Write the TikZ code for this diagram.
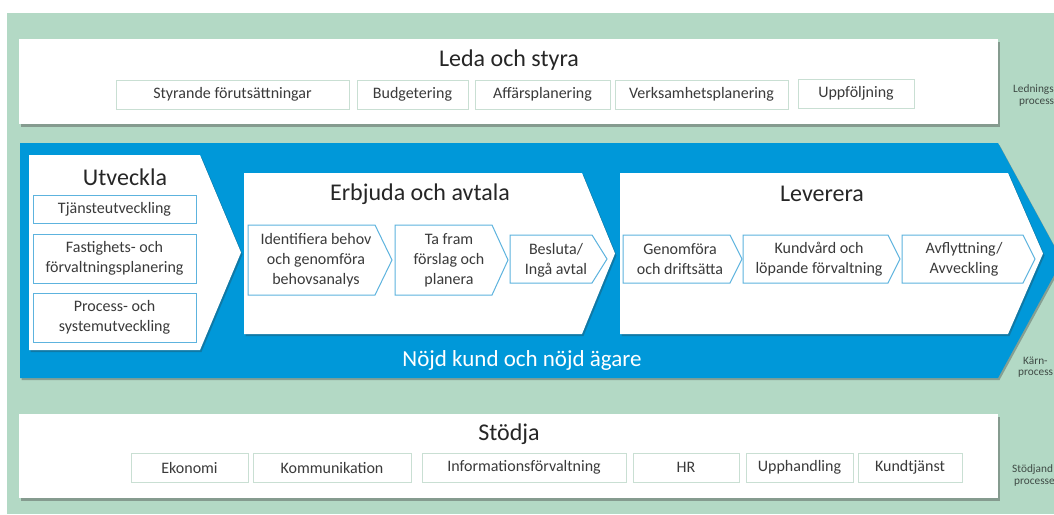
\documentclass[tikz,border=0pt]{standalone}
\usepackage{fontspec}
\setmainfont{Carlito}
\usetikzlibrary{shadows}
\definecolor{bggreen}{HTML}{B3D9C5}
\definecolor{coreblue}{HTML}{0098D9}
\definecolor{subblue}{HTML}{5DB3DE}
\definecolor{subgray}{HTML}{C9DFD3}
\definecolor{txt}{HTML}{262626}
\definecolor{subtxt}{HTML}{3A3A3A}
\definecolor{sidetxt}{HTML}{3F4A45}
\newcommand{\chevpath}[6]{\path[#1] (#2,#3) -- (#4,#3) -- (#5,{(#3+#6)/2}) -- (#4,#6) -- (#2,#6) -- cycle;}
\newcommand{\rectnode}[7]{\node[#6, minimum width={(#4-#2)*1pt}, minimum height={(#5-#3)*1pt}] (#1) at ({(#2+#4)/2},{(#3+#5)/2}) {#7};}
\begin{document}
\begin{tikzpicture}[x=1pt,y=-1pt,
  panel/.style={fill=white, draw=none, inner sep=0pt,
    drop shadow={shadow xshift=2pt, shadow yshift=-3pt, opacity=0.4, fill=black!75}},
  bigchev/.style={fill=white, draw=none,
    drop shadow={shadow xshift=1.5pt, shadow yshift=-2pt, opacity=0.3, fill=black!80}},
  band/.style={fill=coreblue, draw=none,
    drop shadow={shadow xshift=1.5pt, shadow yshift=-2pt, opacity=0.35, fill=black!80}},
  graybox/.style={fill=white, draw=subgray, line width=1pt, inner sep=0pt,
    font=\fontsize{16}{20}\selectfont, text=subtxt},
  bluebox/.style={fill=white, draw=subblue, line width=1pt, inner sep=0pt, align=center,
    font=\fontsize{16}{20}\selectfont, text=subtxt},
  subchev/.style={fill=white, draw=subblue, line width=1pt, line join=miter},
  subtext/.style={align=center, inner sep=0pt, font=\fontsize{16}{20}\selectfont, text=subtxt},
  title/.style={inner sep=0pt, font=\fontsize{24}{28}\selectfont, text=txt},
  sidelabel/.style={anchor=west, inner sep=0pt, font=\fontsize{11.3}{13}\selectfont, text=sidetxt}
]
\useasboundingbox (0,0) rectangle (1054,514);
\clip (0,0) rectangle (1054,514);
\fill[white] (0,0) rectangle (1054,514);
\fill[bggreen] (7,13) rectangle (1054,514);

% ---- Leda och styra
\rectnode{leda}{19}{39}{998}{124}{panel}{}
\node[title] (ledaT) at (509,60) {Leda och styra};
\rectnode{styr}{116}{80}{349}{109}{graybox}{Styrande förutsättningar}
\rectnode{budg}{357}{80}{468}{109}{graybox}{Budgetering}
\rectnode{affp}{475}{80}{610}{109}{graybox}{Affärsplanering}
\rectnode{verk}{615}{80}{788}{109}{graybox}{Verksamhetsplanering}
\rectnode{uppf}{798}{79}{914}{108}{graybox}{Uppföljning}
\node[sidelabel] (lbl1a) at (1013,90) {Lednings};
\node[sidelabel] (lbl1b) at (1019,103) {process};

% ---- Core band
\chevpath{band}{20}{143}{998}{1062}{378}
\node[inner sep=0pt, font=\fontsize{23}{27}\selectfont, text=white] (nojd) at (522,360) {Nöjd kund och nöjd ägare};
\node[sidelabel] (lbl2a) at (1023,361) {Kärn-};
\node[sidelabel] (lbl2b) at (1018,374) {process};

% Utveckla
\chevpath{bigchev}{29}{155}{200}{241}{350}
\node[title] (utvT) at (125,177) {Utveckla};
\rectnode{tjan}{33}{195}{196}{223}{bluebox}{Tjänsteutveckling}
\rectnode{fast}{33}{234}{196}{283}{bluebox}{Fastighets- och\\förvaltningsplanering}
\rectnode{proc}{33}{293}{196}{342}{bluebox}{Process- och\\systemutveckling}

% Erbjuda och avtala
\chevpath{bigchev}{244}{173}{582}{615}{334}
\node[title] (erbT) at (420,194) {Erbjuda och avtala};
\chevpath{subchev}{248}{225}{375}{392}{295}
\node[subtext] (iden) at (316,260) {Identifiera behov\\och genomföra\\behovsanalys};
\chevpath{subchev}{395}{225}{492}{508}{295}
\node[subtext] (tafr) at (449,260) {Ta fram\\förslag och\\planera};
\chevpath{subchev}{510}{235}{592}{607}{283}
\node[subtext] (besl) at (556,260) {Besluta/\\Ingå avtal};

% Leverera
\chevpath{bigchev}{620}{173}{1008}{1043}{334}
\node[title] (levT) at (822,194) {Leverera};
\chevpath{subchev}{623}{235}{730}{742}{283}
\node[subtext] (geno) at (680,259) {Genomföra\\och driftsätta};
\chevpath{subchev}{743}{235}{888}{900}{283}
\node[subtext] (kund) at (819,259) {Kundvård och\\löpande förvaltning};
\chevpath{subchev}{902}{235}{1023}{1035}{283}
\node[subtext] (avfl) at (964,259) {Avflyttning/\\Avveckling};

% ---- Stödja
\rectnode{stod}{19}{414}{998}{498}{panel}{}
\node[title] (stodT) at (509,434) {Stödja};
\rectnode{ekon}{131}{453}{248}{482}{graybox}{Ekonomi}
\rectnode{komm}{253}{453}{411}{482}{graybox}{Kommunikation}
\rectnode{info}{422}{453}{626}{482}{graybox}{Informationsförvaltning}
\rectnode{hr}{633}{453}{739}{482}{graybox}{HR}
\rectnode{upph}{746}{453}{853}{482}{graybox}{Upphandling}
\rectnode{kutj}{858}{453}{962}{482}{graybox}{Kundtjänst}
\node[sidelabel] (lbl3a) at (1012,470) {Stödjand};
\node[sidelabel] (lbl3b) at (1014,483) {processe};
\end{tikzpicture}
\end{document}
